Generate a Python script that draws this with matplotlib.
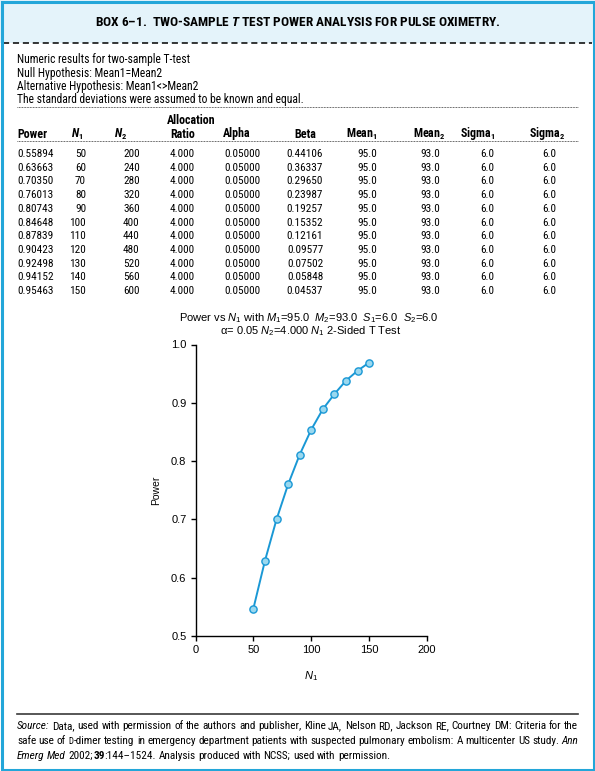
import matplotlib
matplotlib.use('Agg')
import matplotlib.pyplot as plt
from matplotlib.lines import Line2D
from matplotlib.patches import Rectangle
from matplotlib import font_manager

W, H = 595, 771

# table values
n1 = [50, 60, 70, 80, 90, 100, 110, 120, 130, 140, 150]
n2 = [200, 240, 280, 320, 360, 400, 440, 480, 520, 560, 600]
power_tbl = [0.55894, 0.63663, 0.70350, 0.76013, 0.80743, 0.84648,
             0.87839, 0.90423, 0.92498, 0.94152, 0.95463]
beta_tbl = [0.44106, 0.36337, 0.29650, 0.23987, 0.19257, 0.15352,
            0.12161, 0.09577, 0.07502, 0.05848, 0.04537]
ratio = 4.0
alpha = 0.05
mean1, mean2 = 95.0, 93.0
sigma1, sigma2 = 6.0, 6.0

# values as drawn in the chart
power_plot = [0.547, 0.629, 0.700, 0.760, 0.811, 0.854,
              0.889, 0.915, 0.938, 0.955, 0.969]

intro = ["Numeric results for two-sample T-test",
         "Null Hypothesis: Mean1=Mean2",
         "Alternative Hypothesis: Mean1<>Mean2",
         "The standard deviations were assumed to be known and equal."]

names = {f.name for f in font_manager.fontManager.ttflist}
BODY = 'Liberation Sans'
for c in ['Liberation Sans Narrow', 'Roboto Condensed', 'Open Sans Condensed', 'Lato']:
    if c in names:
        BODY = c
        break
SANS = 'Liberation Sans'

plt.rcParams['font.family'] = [BODY, 'DejaVu Sans']
plt.rcParams['mathtext.fontset'] = 'custom'
plt.rcParams['mathtext.rm'] = SANS
plt.rcParams['mathtext.it'] = SANS + ':italic'
plt.rcParams['mathtext.bf'] = BODY + ':bold'
plt.rcParams['mathtext.bfit'] = BODY + ':bold:italic'

CYAN = '#23a6d9'
BAND = '#e4f3fa'
LINEC = '#1a98d5'
MFACE = '#9ad8ef'


def fx(x):
    return x / W


def fy(y):
    return 1 - y / H


fig = plt.figure(figsize=(W / 100, H / 100), dpi=100)
fig.patch.set_facecolor('white')
renderer = fig.canvas.get_renderer()


def hline(x0, x1, y, **kw):
    fig.add_artist(Line2D([fx(x0), fx(x1)], [fy(y), fy(y)],
                          transform=fig.transFigure, **kw))


def txt(x, y, s, **kw):
    kw.setdefault('va', 'center')
    return fig.text(fx(x), fy(y), s, **kw)


def fit(s, target, base=10, **kw):
    t = fig.text(0, 0, s, fontsize=base, **kw)
    w = t.get_window_extent(renderer).width
    t.remove()
    return base * target / w


# frame and title band
fig.add_artist(Rectangle((0, fy(43)), 1, 43 / H, transform=fig.transFigure,
                         facecolor=BAND, edgecolor='none', zorder=0))
fig.add_artist(Rectangle((fx(1.5), fy(H - 1.5)), fx(W - 3), (H - 3) / H,
                         transform=fig.transFigure, facecolor='none',
                         edgecolor=CYAN, lw=2.2, zorder=5))
hline(3, 592, 43, color='black', lw=1.1, dashes=(4, 2.5))

title = r"BOX 6–1.  TWO-SAMPLE $\mathbfit{T}$ TEST POWER ANALYSIS FOR PULSE OXIMETRY."
fs_title = fit(title, 406, weight='bold')
txt(298, 22, title, ha='center', fontsize=fs_title, weight='bold')

fs_body = fit(intro[0], 173)
for i, s in enumerate(intro):
    txt(17, 60 + 13.2 * i, s, fontsize=fs_body)

hline(17, 578, 107, color='#444444', lw=0.7, dashes=(0.8, 0.8))
hline(17, 578, 141, color='#444444', lw=0.7, dashes=(0.8, 0.8))

# table
fs_head = fit("Allocation", 49, weight='bold')
fs_data = fit("0.55894", 36)
hy = 134
txt(167, 120, "Allocation", fontsize=fs_head, weight='bold')
cols = [
    ("Power", 17, 'left', 17, 'left', ["%.5f" % v for v in power_tbl]),
    (r"$\mathbfit{N}_\mathbf{1}$", 83, 'right', 86, 'right', [str(v) for v in n1]),
    (r"$\mathbfit{N}_\mathbf{2}$", 114, 'left', 123, 'left', [str(v) for v in n2]),
    ("Ratio", 170, 'left', 170, 'left', ["%.3f" % ratio] * len(n1)),
    ("Alpha", 223, 'left', 224, 'left', ["%.5f" % alpha] * len(n1)),
    ("Beta", 305, 'center', 305, 'center', ["%.5f" % v for v in beta_tbl]),
    (r"Mean$_\mathbf{1}$", 362, 'center', 367, 'center', ["%.1f" % mean1] * len(n1)),
    (r"Mean$_\mathbf{2}$", 429, 'center', 430, 'center', ["%.1f" % mean2] * len(n1)),
    (r"Sigma$_\mathbf{1}$", 478, 'center', 487, 'center', ["%.1f" % sigma1] * len(n1)),
    (r"Sigma$_\mathbf{2}$", 547, 'center', 549, 'center', ["%.1f" % sigma2] * len(n1)),
]
for head, hx, hha, dx, dha, vals in cols:
    txt(hx, hy, head, ha=hha, fontsize=fs_head, weight='bold')
    for i, v in enumerate(vals):
        txt(dx, 154 + 13.7 * i, v, ha=dha, fontsize=fs_data)

# chart
ax = fig.add_axes([fx(195.5), fy(636), (427 - 195.5) / W, (636 - 344.5) / H])
ax.plot(n1, power_plot, color=LINEC, lw=1.4, marker='o', ms=5.2,
        mfc=MFACE, mec=LINEC, mew=1.0, zorder=3)
ax.set_xlim(0, 200)
ax.set_ylim(0.5, 1.0)
ax.set_xticks([0, 50, 100, 150, 200])
ax.set_yticks([0.5, 0.6, 0.7, 0.8, 0.9, 1.0])
ax.spines[['top', 'right']].set_visible(False)
for sp in ('left', 'bottom'):
    ax.spines[sp].set_linewidth(1.0)
ax.tick_params(direction='out', length=3.5, width=1.0, labelsize=8, pad=3)
for lab in ax.get_xticklabels() + ax.get_yticklabels():
    lab.set_family(SANS)
ax.set_facecolor('none')
ax.set_ylabel("Power", fontsize=7.5, family=SANS)
ax.yaxis.set_label_coords(-0.15, 0.5)
ax.set_xlabel(r"$N_\mathit{1}$", fontsize=8, family=SANS)
ax.xaxis.set_label_coords(0.5, -0.115)

t1 = (r"Power vs $N_\mathit{1}$ with $M_\mathit{1}$=%.1f  $M_\mathit{2}$=%.1f  "
      r"$S_\mathit{1}$=%.1f  $S_\mathit{2}$=%.1f" % (mean1, mean2, sigma1, sigma2))
t2 = r"α= %.2f $N_\mathit{2}$=%.3f $N_\mathit{1}$ 2-Sided T Test" % (alpha, ratio)
txt(309, 318, t1, ha='center', fontsize=8, family=SANS)
txt(311, 331, t2, ha='center', fontsize=8, family=SANS)

# source note
hline(17, 578, 714, color='#3a3a3a', lw=1.2)

STY = {'r': {}, 'i': {'style': 'italic'}, 'b': {'weight': 'bold'}}


def words_line(y, words, size, justify, x0=17, x1=578):
    # words: (text, style, glue) -- glue None starts a new word,
    # a number joins it to the previous one with that pixel nudge
    items = []
    for w, st, glue in words:
        fs = size * 0.78 if st == 'sc' else size
        t = txt(x0, y, w, fontsize=fs, va='baseline', **STY.get(st, {}))
        items.append((t, t.get_window_extent(renderer).width, glue))
    a = txt(0, y, "a a", fontsize=size, va='baseline')
    b = txt(0, y, "aa", fontsize=size, va='baseline')
    space = a.get_window_extent(renderer).width - b.get_window_extent(renderer).width
    a.remove()
    b.remove()
    ngaps = sum(1 for _, _, g in items[1:] if g is None)
    total = sum(wd for _, wd, _ in items)
    gap = (x1 - x0 - total) / ngaps if justify else space
    x = x0
    for k, (t, wd, glue) in enumerate(items):
        if k > 0:
            x += gap if glue is None else glue
        t.set_x(fx(x))
        x += wd


def split(s, st='r'):
    return [(w, st, None) for w in s.split()]


src1 = ("Data, used with permission of the authors and publisher, Kline JA, "
        "Nelson RD, Jackson RE, Courtney DM: Criteria for the")
line1 = [("Source:", 'i', None)] + split(src1)
line2 = split("safe use of") + [("D", 'sc', None), ("-dimer", 'r', 0.3)] + split(
    "testing in emergency department patients with suspected pulmonary "
    "embolism: A multicenter US study.") + split("Ann", 'i')
line3 = split("Emerg Med", 'i') + [("2002;", 'r', None), ("39", 'b', 0.5),
                                   (":144–1524.", 'r', -0.6)] + split(
    "Analysis produced with NCSS; used with permission.")

fs_src = fit("Source: " + src1, 561)
words_line(729, line1, fs_src, True)
words_line(744, line2, fs_src, True)
words_line(759, line3, fs_src, False)

fig.savefig('out.png', dpi=100)
